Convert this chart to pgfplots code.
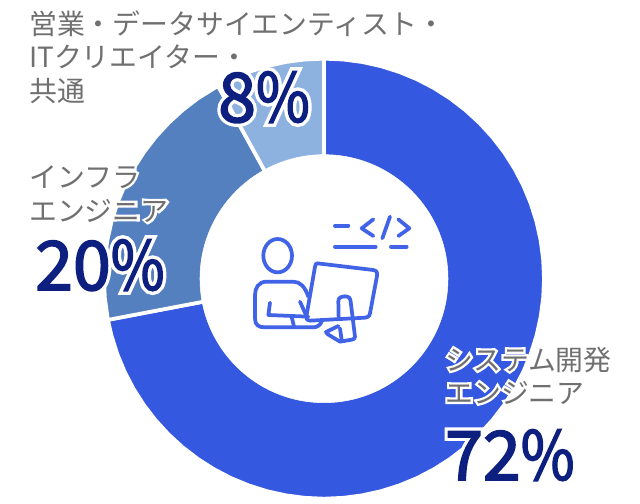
\documentclass[border=0pt]{standalone}
\usepackage{pgfplots}
\pgfplotsset{compat=1.18}
\usepgfplotslibrary{polar}
\usepackage{fontspec}
\setmainfont{Noto Sans CJK JP}
\newfontfamily\jp{Noto Sans CJK JP}
\newfontfamily\jphalo[FakeBold=16]{Noto Sans CJK JP}
\newfontfamily\numfat[FakeBold=2.5]{Noto Sans CJK JP}
\newfontfamily\numhalo[FakeBold=12]{Noto Sans CJK JP}
\newfontfamily\pcfat[FakeBold=2,FakeStretch=0.86]{Noto Sans CJK JP}
\newfontfamily\pchalo[FakeBold=12,FakeStretch=0.86]{Noto Sans CJK JP}
\definecolor{cA}{HTML}{3558E0}
\definecolor{cB}{HTML}{5480BF}
\definecolor{cC}{HTML}{8DB2E0}
\definecolor{cN}{HTML}{0D2080}
\definecolor{cG}{HTML}{707070}
\definecolor{cI}{HTML}{4163E8}
\newcommand{\lab}[3]{%
  \node[anchor=base west,inner sep=0pt,white] at (#1,#2) {\fontsize{20.9}{20.9}\jphalo #3};
  \node[anchor=base west,inner sep=0pt,cG] at (#1,#2) {\fontsize{20.9}{20.9}\jp #3};}
\newcommand{\pct}[3]{%
  \node[anchor=base west,inner sep=0pt,white] at (#1,#2) {\fontsize{51}{51}\numhalo #3\pchalo\%};
  \node[anchor=base west,inner sep=0pt,cN] at (#1,#2) {\fontsize{51}{51}\numfat #3\pcfat\%};}
\begin{document}
\begin{tikzpicture}
\useasboundingbox (0,0) rectangle (480pt,-378pt);
\begin{polaraxis}[at={(243pt,-209pt)},anchor=center,scale only axis,width=330pt,height=330pt,
  xmin=0,xmax=360,ymin=0,ymax=165,hide axis,clip=false]
\addplot[fill=cA,draw=white,line width=2.8pt] coordinates {(0,0) (190.8,165) (195,165) (200,165) (205,165) (210,165) (215,165) (220,165) (225,165) (230,165) (235,165) (240,165) (245,165) (250,165) (255,165) (260,165) (265,165) (270,165) (275,165) (280,165) (285,165) (290,165) (295,165) (300,165) (305,165) (310,165) (315,165) (320,165) (325,165) (330,165) (335,165) (340,165) (345,165) (350,165) (355,165) (360,165) (365,165) (370,165) (375,165) (380,165) (385,165) (390,165) (395,165) (400,165) (405,165) (410,165) (415,165) (420,165) (425,165) (430,165) (435,165) (440,165) (445,165) (450,165)} -- cycle;
\addplot[fill=cB,draw=white,line width=2.8pt] coordinates {(0,0) (118.8,165) (125,165) (130,165) (135,165) (140,165) (145,165) (150,165) (155,165) (160,165) (165,165) (170,165) (175,165) (180,165) (185,165) (190.8,165)} -- cycle;
\addplot[fill=cC,draw=white,line width=2.8pt] coordinates {(0,0) (90,165) (95,165) (100,165) (105,165) (110,165) (115,165) (118.8,165)} -- cycle;
\addplot[only marks,mark=*,mark size=93pt,mark options={fill=white,draw=white}] coordinates {(0,0)};
\end{polaraxis}
\begin{scope}[x=0.75pt,y=-0.75pt]
\lab{29}{34}{営業・データサイエンティスト・}
\lab{29}{67}{ITクリエイター・}
\lab{29}{101}{共通}
\pct{218}{122}{8}
\lab{29}{187}{インフラ}
\lab{29}{221}{エンジニア}
\pct{35}{290}{20}
\lab{445}{370}{システム開発}
\lab{445}{403}{エンジニア}
\pct{445}{480}{72}
% icon
\begin{scope}[shift={(230,200)},x=0.25pt,y=-0.25pt,draw=cI,line width=2.8pt,line cap=round,line join=round]
\draw (143,167) ellipse [x radius=43,y radius=50];
\draw (235,290) .. controls (225,260) and (210,245) .. (190,245) -- (110,245) .. controls (85,245) and (75,265) .. (75,285) -- (75,355) .. controls (75,375) and (85,382) .. (105,382) -- (250,382) .. controls (262,382) and (270,375) .. (275,365);
\draw (120,308) -- (115,345) -- (235,350);
\draw (185,350) -- (192,380);
\draw (210,305) -- (228,345);
\draw (262,190) -- (430,210) .. controls (440,212) and (443,218) .. (441,228) -- (420,340) .. controls (418,350) and (412,353) .. (405,353) -- (240,362) .. controls (232,362) and (228,358) .. (229,350) -- (255,200) .. controls (256,193) and (258,190) .. (262,190) -- cycle;
\draw (326,355) -- (325,305) .. controls (325,293) and (332,290) .. (345,289) .. controls (357,289) and (361,295) .. (362,305) -- (375,410) .. controls (375,416) and (372,418) .. (365,419) -- (330,425) -- (292,402) -- (288,396) -- (325,378);
\draw (335,420) -- (330,385);
\draw (315,77) -- (355,77);
\draw (430,58) -- (395,85) -- (430,108);
\draw (480,50) -- (457,115);
\draw (505,58) -- (538,85) -- (505,108);
\draw (315,140) -- (437,140);
\draw (483,140) -- (530,140);
\end{scope}
\end{scope}
\end{tikzpicture}
\end{document}
